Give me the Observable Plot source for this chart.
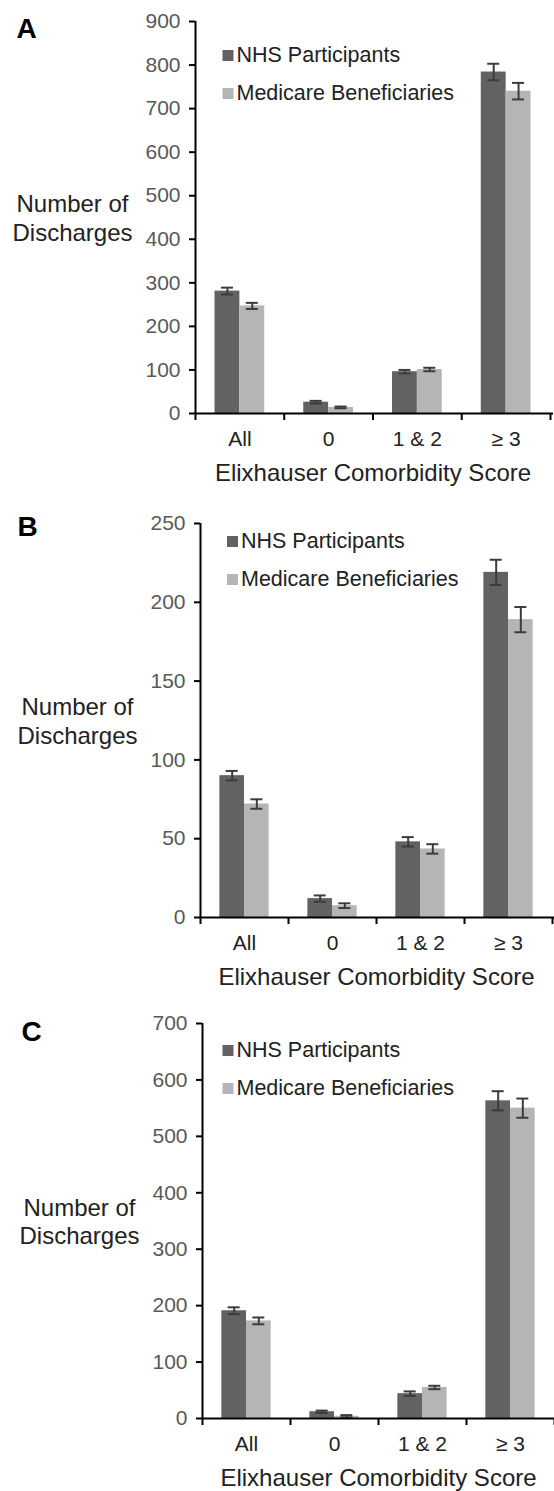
<!DOCTYPE html>
<html>
<head>
<meta charset="utf-8">
<script src="https://cdn.jsdelivr.net/npm/d3@7"></script>
<script src="https://cdn.jsdelivr.net/npm/@observablehq/plot@0.6"></script>
<style>
  body { margin: 0; background: #fff; }
  #chart { width: 554px; }
  #chart svg { display: block; overflow: visible; }
</style>
</head>
<body>
<div id="chart"></div>
<script>
// ---- data ----
const categories = ["All", "0", "1 & 2", "≥ 3"];
const series = ["NHS Participants", "Medicare Beneficiaries"];
const xTitle = "Elixhauser Comorbidity Score";
const yTitle = "Number of\nDischarges";

const nhsA = [281, 26, 96, 784];
const nhsErrA = [8, 3, 4, 19];
const medA = [247, 14, 101, 740];
const medErrA = [7, 2, 4, 19];
const ticksA = [0, 100, 200, 300, 400, 500, 600, 700, 800, 900];

const nhsB = [90, 12, 48, 219];
const nhsErrB = [3, 2, 3, 8];
const medB = [72, 7.5, 43.5, 189];
const medErrB = [3, 1.5, 3, 8];
const ticksB = [0, 50, 100, 150, 200, 250];

const nhsC = [191, 12, 44, 563];
const nhsErrC = [6, 2, 4, 17];
const medC = [173, 4, 55, 550];
const medErrC = [6, 2, 3, 17];
const ticksC = [0, 100, 200, 300, 400, 500, 600, 700];

// ---- style ----
const NHS_COLOR = "#626262";
const MED_COLOR = "#b5b5b5";
const ERR_COLOR = "#3c3c3c";
const FONT = "'Liberation Sans', Arial, Helvetica, sans-serif";

function panel(cfg) {
  const width = 554;
  const {letter, ticks, nhs, nhsErr, med, medErr, height, marginTop, marginBottom, marginLeft, marginRight,
         letterDx, letterDy, legendDx, legendDy, extendRight} = cfg;
  const bw = (width - marginLeft - marginRight) / categories.length;
  const gap = 0.22 * bw, barW = 0.28 * bw, capW = 12;
  const rows = categories.map((c, i) => ({cat: c, nhs: nhs[i], nhsErr: nhsErr[i], med: med[i], medErr: medErr[i]}));
  const yMax = ticks[ticks.length - 1];
  const lastCat = [categories[categories.length - 1]];
  const colors = [NHS_COLOR, MED_COLOR];
  const legendMarks = [];
  series.forEach((s, i) => {
    legendMarks.push(Plot.dot([s], {frameAnchor: "top-left", dx: legendDx, dy: legendDy + i * 38,
      symbol: "square", r: 6.2, fill: colors[i], stroke: null}));
    legendMarks.push(Plot.text([s], {frameAnchor: "top-left", dx: legendDx + 8.5, dy: legendDy + i * 38,
      text: d => d, textAnchor: "start", lineAnchor: "middle", fontSize: 21.5, fill: "#222"}));
  });
  return Plot.plot({
    width, height, marginTop, marginBottom, marginLeft, marginRight,
    style: {fontFamily: FONT, background: "white", overflow: "visible"},
    x: {type: "band", domain: categories, padding: 0, round: false, axis: null},
    y: {domain: [0, yMax], axis: null},
    marks: [
      Plot.barY(rows, {x: "cat", y: "nhs", fill: NHS_COLOR, insetLeft: gap, insetRight: bw - gap - barW}),
      Plot.barY(rows, {x: "cat", y: "med", fill: MED_COLOR, insetLeft: gap + barW, insetRight: gap}),
      // error bars
      Plot.ruleX(rows, {x: "cat", y1: d => d.nhs - d.nhsErr, y2: d => d.nhs + d.nhsErr, dx: -barW / 2, stroke: ERR_COLOR, strokeWidth: 2}),
      Plot.ruleX(rows, {x: "cat", y1: d => d.med - d.medErr, y2: d => d.med + d.medErr, dx: barW / 2, stroke: ERR_COLOR, strokeWidth: 2}),
      Plot.tickY(rows, {x: "cat", y: d => d.nhs + d.nhsErr, insetLeft: gap + barW / 2 - capW / 2, insetRight: bw - gap - barW / 2 - capW / 2, stroke: ERR_COLOR, strokeWidth: 2}),
      Plot.tickY(rows, {x: "cat", y: d => d.nhs - d.nhsErr, insetLeft: gap + barW / 2 - capW / 2, insetRight: bw - gap - barW / 2 - capW / 2, stroke: ERR_COLOR, strokeWidth: 2}),
      Plot.tickY(rows, {x: "cat", y: d => d.med + d.medErr, insetLeft: gap + barW * 1.5 - capW / 2, insetRight: gap + barW / 2 - capW / 2, stroke: ERR_COLOR, strokeWidth: 2}),
      Plot.tickY(rows, {x: "cat", y: d => d.med - d.medErr, insetLeft: gap + barW * 1.5 - capW / 2, insetRight: gap + barW / 2 - capW / 2, stroke: ERR_COLOR, strokeWidth: 2}),
      // y axis
      Plot.ruleX([categories[0]], {x: d => d, y1: 0, y2: yMax, dx: -bw / 2, stroke: "black", strokeWidth: 2}),
      Plot.axisY(ticks, {tickSize: 6, tickPadding: 9, fontSize: 21, stroke: "black", strokeWidth: 2, fill: "#595959", label: null}),
      // x axis
      Plot.ruleY([0], {stroke: "black", strokeWidth: 2, insetRight: -extendRight}),
      Plot.ruleX(categories, {x: d => d, y1: 0, y2: 0, insetBottom: -7, dx: -bw / 2, stroke: "black", strokeWidth: 2}),
      Plot.ruleX(lastCat, {x: d => d, y1: 0, y2: 0, insetBottom: -7, dx: bw / 2, stroke: "black", strokeWidth: 2}),
      Plot.axisX({tickSize: 0, tickPadding: 18, fontSize: 21, fill: "#222", label: null}),
      Plot.text([xTitle], {frameAnchor: "bottom", dy: 60, lineAnchor: "middle", fontSize: 24, fill: "#222"}),
      Plot.text([yTitle], {frameAnchor: "left", dx: -123, textAnchor: "middle", lineAnchor: "middle", lineHeight: 1.17, fontSize: 24, fill: "#222"}),
      Plot.text([letter], {frameAnchor: "top-left", dx: letterDx, dy: letterDy, textAnchor: "middle", lineAnchor: "middle", fontSize: 28, fontWeight: "bold", fill: "#000"}),
      ...legendMarks
    ]
  });
}

const chart = document.getElementById("chart");
chart.append(panel({letter: "A", ticks: ticksA, nhs: nhsA, nhsErr: nhsErrA, med: medA, medErr: medErrA,
  height: 495, marginTop: 21, marginBottom: 82, marginLeft: 195, marginRight: 4,
  letterDx: -169, letterDy: 8, legendDx: 32.5, legendDy: 34, extendRight: 3}));
chart.append(panel({letter: "B", ticks: ticksB, nhs: nhsB, nhsErr: nhsErrB, med: medB, medErr: medErrB,
  height: 500, marginTop: 28, marginBottom: 78, marginLeft: 200, marginRight: 2,
  letterDx: -173, letterDy: 4, legendDx: 32, legendDy: 18, extendRight: 2}));
chart.append(panel({letter: "C", ticks: ticksC, nhs: nhsC, nhsErr: nhsErrC, med: medC, medErr: medErrC,
  height: 496, marginTop: 28, marginBottom: 73, marginLeft: 202, marginRight: 0,
  letterDx: -171, letterDy: 9, legendDx: 25.5, legendDy: 27, extendRight: 0}));
</script>
</body>
</html>
